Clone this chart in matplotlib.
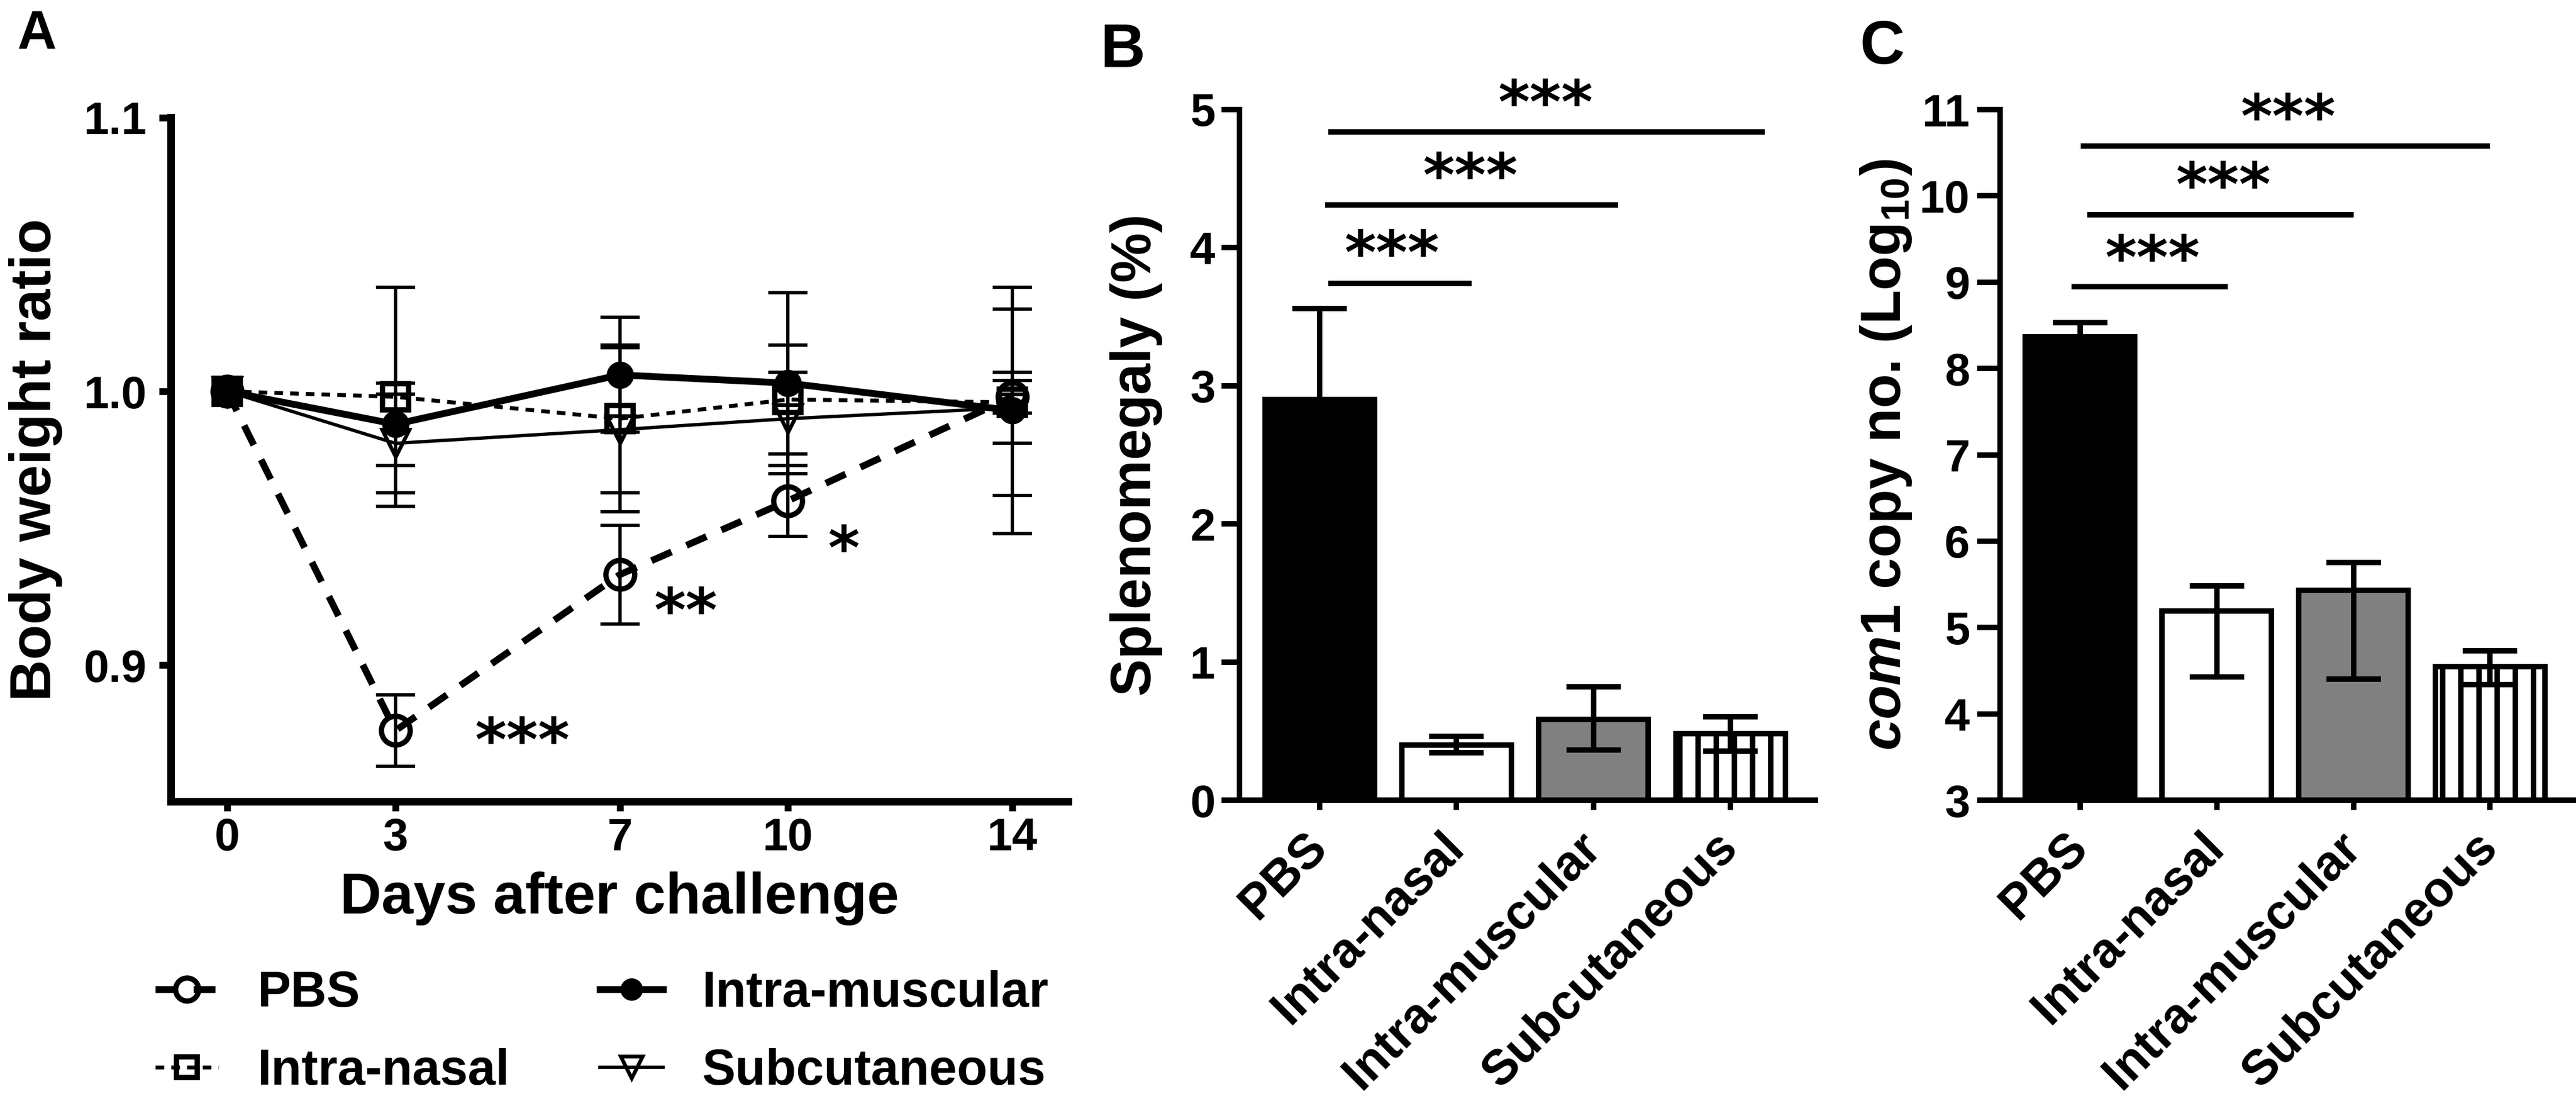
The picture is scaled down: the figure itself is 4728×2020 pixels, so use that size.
import numpy as np
import matplotlib
matplotlib.use('Agg')
from matplotlib import pyplot as plt
from matplotlib.lines import Line2D
from matplotlib.transforms import ScaledTranslation

plt.rcParams['font.family'] = ['Liberation Sans', 'DejaVu Sans']
plt.rcParams['font.weight'] = 'bold'
plt.rcParams['axes.labelweight'] = 'bold'
plt.rcParams['hatch.linewidth'] = 3.6
plt.rcParams['mathtext.fontset'] = 'custom'
plt.rcParams['mathtext.rm'] = 'Liberation Sans:bold'
plt.rcParams['mathtext.it'] = 'Liberation Sans:italic:bold'
plt.rcParams['mathtext.bf'] = 'Liberation Sans:bold'

# panel A - body weight ratio
days     = [0, 3, 7, 10, 14]
pbs_w    = [1.000, 0.876, 0.933, 0.960, 0.998]
pbs_e    = [0.0, 0.013, 0.018, 0.013, 0.006]
nasal_w  = [1.000, 0.998, 0.990, 0.997, 0.996]
nasal_e  = [0.0, 0.040, 0.027, 0.020, 0.034]
musc_w   = [1.000, 0.988, 1.006, 1.003, 0.993]
musc_e   = [0.0, 0.015, 0.021, 0.033, 0.045]
subc_w   = [1.000, 0.981, 0.986, 0.990, 0.994]
subc_e   = [0.0, 0.018, 0.030, 0.017, 0.013]
series_names = ['PBS', 'Intra-nasal', 'Intra-muscular', 'Subcutaneous']

# panels B and C - bar charts
groups    = ['PBS', 'Intra-nasal', 'Intra-muscular', 'Subcutaneous']
spleno    = [2.90, 0.40, 0.585, 0.48]
spleno_lo = [0.66, 0.055, 0.22, 0.125]
spleno_hi = [0.66, 0.06, 0.235, 0.125]
com1      = [8.37, 5.19, 5.43, 4.55]
com1_lo   = [0.16, 0.76, 1.03, 0.21]
com1_hi   = [0.16, 0.29, 0.32, 0.18]

# significance marks
stars_A = [(5.27, 0.8733, '***'), (8.18, 0.9207, '**'), (11.0, 0.9433, '*')]
brackets_B = [(0.065, 1.11, 3.74, 0.53, 4.03), (0.04, 2.18, 4.31, 1.10, 4.59),
              (0.065, 3.25, 4.84, 1.65, 5.12)]
brackets_C = [(-0.063, 1.08, 8.95, 0.53, 9.39), (0.053, 2.0, 9.78, 1.05, 10.24),
              (0.006, 3.0, 10.58, 1.525, 11.03)]

W, H = 4728, 2020
fig = plt.figure(figsize=(W/200, H/200), dpi=200)

axA = fig.add_axes([314/W, 1-1471/H, (1961-314)/W, (1471-216)/H])
axB = fig.add_axes([2275/W, 1-1468/H, (3332-2275)/W, (1468-201)/H])
axC = fig.add_axes([3671/W, 1-1468/H, (4726-3671)/W, (1468-201)/H])

# ---- A ----
styles = [
    dict(marker='o', ls=(0, (3.2, 2.4)), lw=4.5, mfc='none', ms=19, mew=3.5),
    dict(marker='s', ls=(0, (2.2, 1.8)), lw=2.6, mfc='none', ms=17, mew=3.5),
    dict(marker='o', ls='-', lw=4.5, mfc='k', ms=16, mew=2),
    dict(marker='v', ls='-', lw=2.2, mfc='none', ms=18, mew=2.5),
]
data_A = [(pbs_w, pbs_e), (nasal_w, nasal_e), (musc_w, musc_e), (subc_w, subc_e)]
for (w, e), st in zip(data_A, styles):
    axA.errorbar(days[1:], w[1:], yerr=e[1:], fmt='none', ecolor='k',
                 elinewidth=2.2, capsize=13, capthick=2.2, zorder=2)
for (w, e), st in zip(data_A, styles):
    axA.plot(days, w, color='k', zorder=3, **st)

for x, y, s in stars_A:
    axA.annotate(s, (x, y), xytext=(0, -4), textcoords='offset points',
                 ha='center', va='center', fontsize=40,
                 family='DejaVu Sans', fontweight='bold')

axA.set_xlim(-1, 15)
axA.set_ylim(0.85, 1.1)
axA.set_xticks(days)
axA.set_yticks([0.9, 1.0, 1.1])
axA.set_yticklabels(['0.9', '1.0', '1.1'])
for s in ['top', 'right']:
    axA.spines[s].set_visible(False)
for s in ['left', 'bottom']:
    axA.spines[s].set_linewidth(5)
axA.tick_params(axis='y', width=4.5, length=8, labelsize=30, pad=8)
axA.tick_params(axis='x', width=4.5, length=6, labelsize=30, pad=4)
axA.set_ylabel('Body weight ratio', fontsize=38, labelpad=14)
axA.set_xlabel('Days after challenge', fontsize=38, labelpad=8)

leg_handles = []
for st in styles:
    st2 = dict(st)
    st2['ms'] = st['ms'] * 0.8
    leg_handles.append(Line2D([], [], color='k', **st2))
fig.legend(leg_handles, series_names, ncol=2, loc='upper left',
           bbox_to_anchor=(285/W, 1-1780/H), frameon=False,
           prop={'weight': 'bold', 'size': 33}, handlelength=1.27,
           handletextpad=0.78, columnspacing=1.8, labelspacing=0.62,
           borderpad=0, borderaxespad=0)

# ---- B and C ----
x = np.arange(len(groups))
face = ['black', 'white', '#808080', 'white']
hatch = [None, None, None, '|']
shift = ScaledTranslation(22/200, 0, fig.dpi_scale_trans)


def bar_panel(ax, vals, lo, hi, base, top, brackets, ticklen, tickpad):
    bars = ax.bar(x, np.array(vals) - base, bottom=base, width=0.8,
                  color=face, edgecolor='k', linewidth=3.6, zorder=2)
    for b, h in zip(bars, hatch):
        if h:
            b.set_hatch(h)
    ax.errorbar(x, vals, yerr=[lo, hi], fmt='none', ecolor='k',
                elinewidth=3.6, capsize=18, capthick=3.6, zorder=3)
    for x0, x1, y, xs, ys in brackets:
        ax.plot([x0, x1], [y, y], color='k', lw=3.6, clip_on=False,
                solid_capstyle='butt')
        ax.annotate('***', (xs, ys), xytext=(0, -9), textcoords='offset points',
                    ha='center', va='center', fontsize=40,
                    family='DejaVu Sans', fontweight='bold', annotation_clip=False)
    ax.set_xlim(-0.585, 3.62)
    ax.set_ylim(base, top)
    ax.set_yticks(np.arange(base, top + 1, 1))
    ax.set_xticks(x)
    ax.set_xticklabels(groups, rotation=45, ha='right', va='center',
                       rotation_mode='anchor', fontsize=32.5)
    for lab in ax.get_xticklabels():
        lab.set_transform(lab.get_transform() + shift)
    for s in ['top', 'right']:
        ax.spines[s].set_visible(False)
    for s in ['left', 'bottom']:
        ax.spines[s].set_linewidth(3.6)
    ax.tick_params(axis='y', width=3.6, length=ticklen, labelsize=30, pad=tickpad)
    ax.tick_params(axis='x', width=3.6, length=6.5, pad=20)


bar_panel(axB, spleno, spleno_lo, spleno_hi, 0, 5, brackets_B, 12, 4)
bar_panel(axC, com1, com1_lo, com1_hi, 3, 11, brackets_C, 15, 5)
axB.set_ylabel('Splenomegaly (%)', fontsize=37, labelpad=18)
axC.set_ylabel(r'$\mathit{com1}$ copy no. (Log$_{10}$)', fontsize=37, labelpad=4)

fig.text(32/W, 1-91/H, 'A', fontsize=36, fontweight='bold', va='baseline')
fig.text(2019/W, 1-123/H, 'B', fontsize=41, fontweight='bold', va='baseline')
fig.text(3413/W, 1-117/H, 'C', fontsize=41, fontweight='bold', va='baseline')

fig.savefig('out.png', dpi=200)
